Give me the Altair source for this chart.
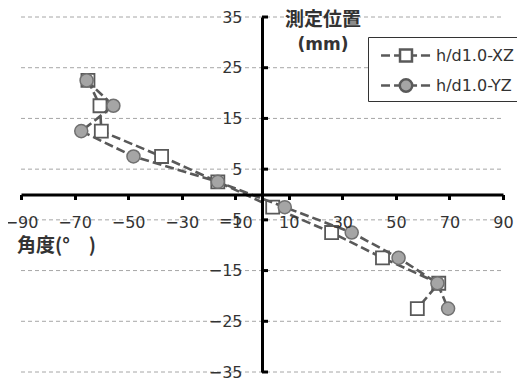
import altair as alt
import pandas as pd

positions = [22.5, 17.5, 12.5, 7.5, 2.5, -2.5, -7.5, -12.5, -17.5, -22.5]
xz_angle = [-65, -60.5, -60, -37.5, -16.5, 4, 26, 45, 66, 58]
yz_angle = [-65.5, -55.5, -67.5, -48, -16.5, 8.5, 33.5, 51, 65.5, 69.5]
series_names = ["h/d1.0-XZ", "h/d1.0-YZ"]
x_ticks = [-90, -70, -50, -30, -10, 10, 30, 50, 70, 90]
y_ticks = [-35, -25, -15, -5, 5, 15, 25, 35]
title_y = ["測定位置", "(mm)"]
title_x = ["角度(°\u3000)"]

W, H = 482, 355

rows = []
for name, angles in zip(series_names, [xz_angle, yz_angle]):
    for i, (a, p) in enumerate(zip(angles, positions)):
        rows.append({"series": name, "angle": a, "pos": p, "idx": i})
df = pd.DataFrame(rows)

xs = alt.Scale(domain=[-90, 90], nice=False, zero=False)
ys = alt.Scale(domain=[-35, 35], nice=False, zero=False)

label_style = dict(labelFont="DejaVu Sans", labelFontSize=16, labelColor="#333333",
                   labelFlush=False, labelOverlap=False, title=None, grid=False, zindex=1)
x_axis = alt.Axis(values=x_ticks, orient="bottom", offset=-H / 2, domainColor="black",
                  domainWidth=3, tickColor="black", tickWidth=3, tickSize=5,
                  labelPadding=15, **label_style)
y_axis = alt.Axis(values=y_ticks, orient="left", offset=-W / 2, domainColor="black",
                  domainWidth=3, ticks=False, tickSize=0, labelPadding=20, **label_style)

def X(f):
    return alt.X(f, scale=xs, axis=x_axis)

def Y(f):
    return alt.Y(f, scale=ys, axis=y_axis)

grid = alt.Chart(pd.DataFrame({"v": y_ticks})).mark_rule(
    color="#a6a6a6", strokeWidth=1, strokeDash=[4, 3]
).encode(y=Y("v:Q"), x=alt.value(0), x2=alt.value(W))

yticks = alt.Chart(pd.DataFrame({"v": y_ticks})).mark_tick(
    orient="horizontal", size=6, thickness=3, color="black", xOffset=3, opacity=1
).encode(y=Y("v:Q"), x=alt.XDatum(0, type="quantitative", scale=xs, axis=x_axis))

base = alt.Chart(df)
line_style = dict(color="#595959", strokeWidth=2.6, strokeDash=[9, 4])

def line_layer(name):
    return base.transform_filter(alt.datum.series == name).mark_line(**line_style).encode(
        x=X("angle:Q"), y=Y("pos:Q"), order="idx:Q")

sq = base.transform_filter(alt.datum.series == series_names[0]).mark_point(
    shape="square", size=170, filled=True, fill="white", stroke="#595959",
    strokeWidth=1.8, opacity=1).encode(x=X("angle:Q"), y=Y("pos:Q"))
ci = base.transform_filter(alt.datum.series == series_names[1]).mark_point(
    shape="circle", size=170, filled=True, fill="#a5a5a5", stroke="#707070",
    strokeWidth=1.5, opacity=1).encode(x=X("angle:Q"), y=Y("pos:Q"))

# legend symbol: dashed line with marker in the middle (unit = sqrt(size)/2 px)
path_sq = ("M-0.42,0H0.27M0.58,0H1.04M1.04,-0.46H1.96V0.46H1.04Z"
           "M1.96,0H2.35M2.65,0H3.35")
path_ci = ("M-0.42,0H0.27M0.58,0H1.02M1.98,0A0.48,0.48,0,1,0,1.02,0"
           "A0.48,0.48,0,1,0,1.98,0ZM1.98,0H2.35M2.65,0H3.35")

legend = alt.Legend(title=None, orient="none", legendX=347, legendY=20, padding=4,
                    fillColor="white", strokeColor="#333333", symbolSize=676,
                    symbolStrokeWidth=2.5, symbolOpacity=1,
                    labelFont="DejaVu Sans", labelFontSize=16, labelColor="#333333",
                    labelOffset=35, rowPadding=4, labelLimit=300)

leg = alt.Chart(pd.DataFrame({"series": series_names})).mark_point(
    strokeWidth=2.5, size=676, opacity=1
).encode(
    x=alt.value(-500), y=alt.value(-500),
    shape=alt.Shape("series:N", scale=alt.Scale(domain=series_names, range=[path_sq, path_ci]), legend=legend),
    fill=alt.Fill("series:N", scale=alt.Scale(domain=series_names, range=["white", "#a5a5a5"]), legend=legend),
    stroke=alt.Stroke("series:N", scale=alt.Scale(domain=series_names, range=["#595959", "#595959"]), legend=legend),
)

def text_layer(txt, font, size, x, y, align):
    return alt.Chart(pd.DataFrame({"t": [txt]})).mark_text(
        font=font, fontSize=size, fontWeight="bold", color="#333333",
        align=align, baseline="middle"
    ).encode(text="t:N", x=alt.value(x), y=alt.value(y))

t1 = text_layer(title_y[0], "Noto Sans CJK JP", 19, 302, 3, "center")
t2 = text_layer(title_y[1], "DejaVu Sans", 17, 302, 28, "center")
t3 = text_layer(title_x[0], "Noto Sans CJK JP", 19, -4, 229, "left")

chart = alt.layer(
    grid, yticks, line_layer(series_names[0]), sq, line_layer(series_names[1]), ci, leg, t1, t2, t3
).properties(
    width=W, height=H,
    autosize=alt.AutoSizeParams(type="none"),
    padding={"left": 13, "top": 9, "right": 14, "bottom": 8},
    background="white",
).configure_view(stroke=None)

chart.save("out.html", embed_options={"renderer": "svg", "actions": False})
